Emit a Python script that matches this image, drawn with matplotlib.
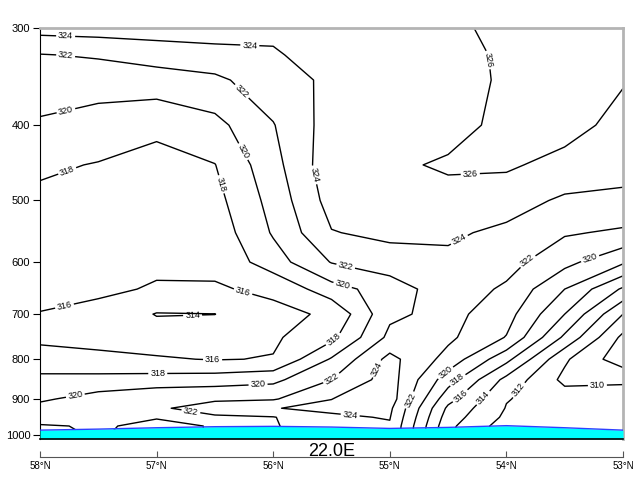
import numpy as np
import matplotlib
matplotlib.use('Agg')
import matplotlib.pyplot as plt

plt.rcParams['font.family'] = ['Liberation Sans', 'DejaVu Sans']

# cross-section grid (lat, pressure)
lats = [58.0, 57.5, 57.0, 56.5, 56.0, 55.5, 55.0, 54.5, 54.0, 53.5, 53.0]
plevs = [300, 325, 350, 400, 450, 500, 550, 600, 650, 700, 750, 800, 850, 900, 925, 950, 975, 1000]

theta = [
    [324.74, 324.9, 325.0, 325.1, 324.5, 325.0, 325.3, 325.6, 326.5, 327.5, 327.5],
    [321.9, 322.2, 322.8, 323.2, 323.75, 325.0, 325.3, 325.1, 326.4, 327.4, 326.8],
    [321.2, 320.9, 321.1, 321.6, 323.1, 324.4, 325.3, 325.15, 326.3, 327.3, 326.15],
    [319.7, 319.1, 318.4, 319.4, 321.9, 324.9, 325.4, 325.2, 326.6, 326.8, 325.3],
    [318.3, 317.9, 317.4, 317.95, 321.3, 325.3, 325.6, 326.3, 326.3, 325.3, 324.8],
    [317.6, 317.4, 317.1, 317.36, 320.7, 324.8, 325.0, 325.2, 324.8, 323.7, 323.5],
    [317.2, 317.0, 316.7, 316.8, 320.2, 323.9, 324.5, 324.3, 323.6, 322.2, 321.7],
    [316.8, 316.6, 316.3, 316.35, 319.1, 322.1, 323.0, 323.6, 322.7, 320.6, 318.3],
    [316.4, 316.3, 315.85, 315.85, 316.3, 319.2, 321.0, 323.1, 321.7, 318.0, 313.7],
    [315.95, 315.5, 313.9, 313.98, 315.6, 316.23, 321.6, 322.65, 320.8, 316.0, 310.0],
    [315.6, 315.6, 315.0, 315.0, 315.7, 317.5, 322.5, 322.4, 319.9, 313.6, 307.5],
    [316.8, 316.3, 316.2, 315.9, 316.1, 320.2, 324.6, 321.3, 316.6, 310.3, 306.8],
    [318.5, 318.7, 318.8, 319.0, 319.5, 322.0, 324.9, 318.9, 313.4, 309.5, 309.8],
    [319.7, 320.8, 321.7, 321.9, 321.8, 323.98, 325.0, 316.7, 312.1, 311.0, 310.6],
    [320.6, 321.5, 321.9, 322.3, 323.95, 324.3, 324.4, 315.6, 311.9, 310.9, 311.0],
    [321.5, 321.8, 321.95, 321.9, 321.9, 323.76, 324.1, 315.0, 311.6, 311.2, 311.2],
    [322.1, 321.9, 322.2, 321.95, 321.8, 323.5, 323.8, 314.5, 311.0, 311.3, 311.3],
    [322.3, 321.9, 322.4, 321.9, 321.8, 323.4, 323.7, 314.2, 311.0, 311.3, 311.3],
]

# surface pressure (terrain)
psfc = [987, 984, 980, 977, 976, 978, 982, 979, 974, 980, 987]

clevels = [308, 310, 312, 314, 316, 318, 320, 322, 324, 326]
xticks = [58, 57, 56, 55, 54, 53]
xlabels = ['58°N', '57°N', '56°N', '55°N', '54°N', '53°N']
yticks = [300, 400, 500, 600, 700, 800, 900, 1000]
pbot = 1013.25

# where the contour labels sit (lat, hPa)
label_pos = [
    (57.78, 306.9), (56.20, 314.3), (57.78, 325.6), (56.24, 358.0),
    (57.78, 382.0), (56.26, 432.7), (57.78, 452.3), (56.46, 477.1),
    (55.64, 463.2), (54.15, 329.5), (54.31, 461.8), (54.42, 555.6),
    (55.38, 609.3), (55.41, 646.5), (53.80, 603.9), (53.28, 595.1),
    (57.78, 694.5), (56.26, 656.1), (56.69, 711.2), (55.50, 747.8),
    (56.52, 803.4), (56.99, 837.2), (57.70, 885.9), (56.13, 862.5),
    (55.50, 847.4), (55.13, 820.7), (56.71, 942.0), (55.34, 944.8),
    (54.83, 902.4), (54.53, 830.1), (54.42, 849.9), (54.42, 883.3),
    (54.21, 893.9), (53.93, 867.5), (53.22, 860.0),
]

fig = plt.figure(figsize=(6.4, 4.8), dpi=100)
ax = fig.add_axes([40 / 640, 1 - 439 / 480, 583 / 640, 411 / 480])
ax.set_yscale('log')
ax.set_xlim(58, 53)
ax.set_ylim(pbot, 300)

cs = ax.contour(lats, plevs, np.array(theta), levels=clevels, colors='k', linewidths=1.0)
ax.clabel(cs, fmt='%d', fontsize=6.5, manual=label_pos, inline=True, inline_spacing=2)

ax.fill_between(lats, psfc, pbot, color='#00ffff', lw=0, zorder=3)
ax.plot(lats, psfc, color='#3040ff', lw=1, zorder=4)
ax.axhline(pbot, color='k', lw=1.2, zorder=5, clip_on=False)

ax.set_yticks(yticks)
ax.set_yticklabels([str(v) for v in yticks])
ax.minorticks_off()
ax.set_xticks(xticks)
ax.set_xticklabels(xlabels)

ax.tick_params(axis='y', direction='out', length=5, labelsize=8, pad=2, color='k')
ax.tick_params(axis='x', direction='in', length=4, labelsize=7, pad=3, color='#555555')

ax.spines['bottom'].set_position(('outward', 13))
ax.spines['bottom'].set_color('#555555')
ax.spines['left'].set_color('k')
for s in ['top', 'right']:
    ax.spines[s].set_color('#b4b4b4')
    ax.spines[s].set_linewidth(2)

ax.text(0.5, -0.042, '22.0E', transform=ax.transAxes, ha='center', va='baseline', fontsize=13)

fig.savefig('out.png', dpi=100)
